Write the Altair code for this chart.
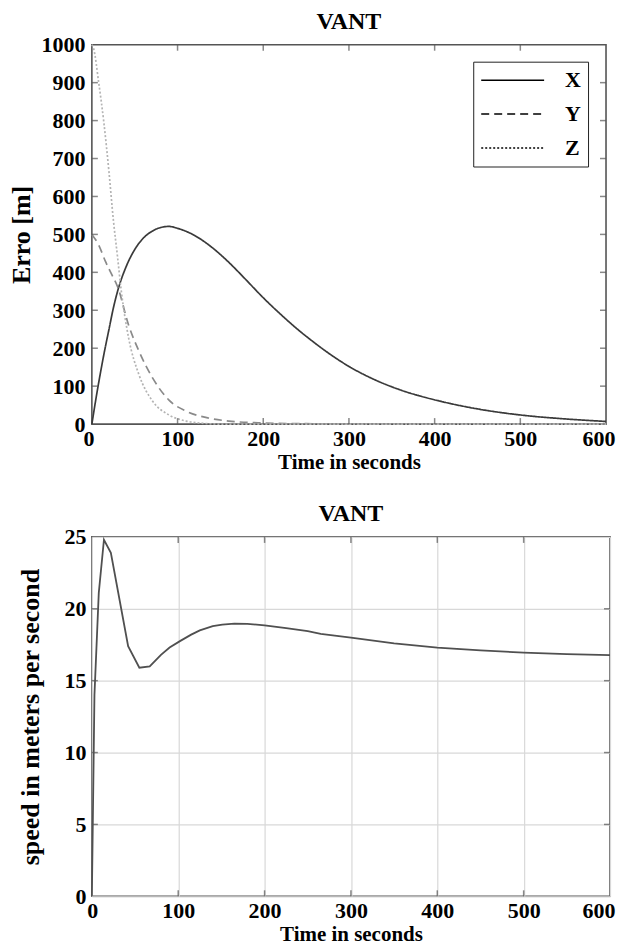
import altair as alt
import pandas as pd

FONT = "Liberation Serif"

# ---- Top chart data: position error (m) vs time (s)
X_T = [0, 5, 10, 15, 20, 25, 30, 40, 50, 60, 70, 80, 90, 100, 120, 140, 160, 180,
       200, 220, 240, 260, 280, 300, 330, 360, 400, 450, 500, 550, 600]
X_V = [0, 70, 135, 195, 250, 305, 350, 415, 460, 490, 508, 518, 521, 516, 497, 466,
       426, 380, 333, 290, 250, 214, 181, 152, 117, 90, 64, 40, 24, 14, 7]

Y_T = [0, 8, 16, 23, 30, 43, 55, 71, 90, 110, 136, 160, 200, 250, 300, 600]
Y_V = [500, 472, 428, 395, 362, 260, 192, 121, 63, 34, 16, 8, 3, 1, 0, 0]

Z_T = [0, 2, 8, 14, 20, 25, 30, 34, 43, 55, 71, 90, 110, 130, 150, 200, 600]
Z_V = [1000, 990, 900, 795, 664, 540, 440, 357, 226, 130, 60, 24, 8, 2, 0, 0, 0]

SERIES = ["X", "Y", "Z"]
SERIES_COLORS = ["#3a3a3a", "#8a8a8a", "#b4b4b4"]
SERIES_DASH = [[1, 0], [8, 5], [2, 2]]

# ---- Bottom chart data: speed (m/s) vs time (s)
S_T = [0, 3, 8, 14, 22, 42, 55, 67, 80, 90, 102, 115, 125, 140, 151, 165, 180, 200,
       225, 250, 265, 300, 350, 400, 450, 500, 550, 600]
S_V = [0, 14, 21.1, 24.8, 23.9, 17.4, 15.9, 16.0, 16.8, 17.3, 17.75, 18.2, 18.5, 18.8,
       18.9, 18.97, 18.95, 18.85, 18.65, 18.45, 18.25, 18.0, 17.6, 17.3, 17.1, 16.95,
       16.85, 16.78]

X_TICKS = [0, 100, 200, 300, 400, 500, 600]
X_INNER = [100, 200, 300, 400, 500]
ERR_TICKS = [0, 100, 200, 300, 400, 500, 600, 700, 800, 900, 1000]
ERR_INNER = [100, 200, 300, 400, 500, 600, 700, 800, 900]
SPD_TICKS = [0, 5, 10, 15, 20, 25]
SPD_INNER = [5, 10, 15, 20]

TOP_W, TOP_H = 515, 380
BOT_W, BOT_H = 519, 360
TICK_LEN = 6
TICK_COLOR = "#555555"

color_of = dict(zip(SERIES, SERIES_COLORS))
err_df = pd.concat([
    pd.DataFrame({"t": X_T, "v": X_V, "series": "X"}),
    pd.DataFrame({"t": Y_T, "v": Y_V, "series": "Y"}),
    pd.DataFrame({"t": Z_T, "v": Z_V, "series": "Z"}),
], ignore_index=True)
err_df["col"] = err_df["series"].map(color_of)
spd_df = pd.DataFrame({"t": S_T, "v": S_V})
xin_df = pd.DataFrame({"t": X_INNER})
errin_df = pd.DataFrame({"v": ERR_INNER})
spdin_df = pd.DataFrame({"v": SPD_INNER})

x_scale = alt.Scale(domain=[0, 600], nice=False)


def x_axis(label_pad, title_pad, grid, flush_off):
    return alt.Axis(values=X_TICKS, title="Time in seconds", grid=grid,
                    gridColor="#d8d8d8", gridWidth=1.2,
                    ticks=False, domain=False,
                    labelFlush=True, labelFlushOffset=flush_off,
                    labelOverlap=False, format="d",
                    labelPadding=label_pad, titlePadding=title_pad,
                    labelFontSize=22, titleFontSize=21)


def inner_ticks(y_scale, y_axis, x_ax, h, w, x_df, y_df):
    mk = dict(color=TICK_COLOR, thickness=1.5, size=TICK_LEN)
    bt = alt.Chart(x_df).mark_tick(**mk).encode(
        x=alt.X("t:Q", scale=x_scale, axis=x_ax), y=alt.value(h - TICK_LEN / 2))
    tt = alt.Chart(x_df).mark_tick(**mk).encode(
        x=alt.X("t:Q", scale=x_scale, axis=x_ax), y=alt.value(TICK_LEN / 2))
    lt = alt.Chart(y_df).mark_tick(**mk).encode(
        y=alt.Y("v:Q", scale=y_scale, axis=y_axis), x=alt.value(TICK_LEN / 2))
    rt = alt.Chart(y_df).mark_tick(**mk).encode(
        y=alt.Y("v:Q", scale=y_scale, axis=y_axis), x=alt.value(w - TICK_LEN / 2))
    return [bt, tt, lt, rt]


# ---- Top chart
err_scale = alt.Scale(domain=[0, 1000], nice=False)
top_x_axis = x_axis(4, 2, False, 9)
err_axis = alt.Axis(values=ERR_TICKS, title="Erro [m]", grid=False, ticks=False,
                    domain=False, labelPadding=7, titlePadding=6,
                    labelOverlap=False, format="d",
                    labelFontSize=22, titleFontSize=26)
err_lines = alt.Chart(err_df).mark_line(interpolate="monotone", strokeWidth=1.7).encode(
    x=alt.X("t:Q", scale=x_scale, axis=top_x_axis),
    y=alt.Y("v:Q", scale=err_scale, axis=err_axis),
    color=alt.Color("col:N", scale=None),
    strokeDash=alt.StrokeDash(
        "series:N", scale=alt.Scale(domain=SERIES, range=SERIES_DASH),
        legend=alt.Legend(title=None, orient="none", legendX=382, legendY=17,
                          symbolType="M-1,0L5,0", symbolSize=441,
                          symbolStrokeColor="black", symbolStrokeWidth=1.5,
                          symbolFillColor="transparent",
                          labelFont=FONT, labelFontWeight="bold", labelFontSize=22,
                          labelColor="black", labelOffset=62, rowPadding=11,
                          padding=7, strokeColor="#222222", fillColor="white")),
    order=alt.Order("t:Q"),
)
top = alt.layer(
    err_lines, *inner_ticks(err_scale, err_axis, top_x_axis, TOP_H, TOP_W, xin_df, errin_df)
).properties(
    width=TOP_W, height=TOP_H,
    title=alt.Title("VANT", fontSize=24, font=FONT, fontWeight="bold", offset=0),
)

# ---- Bottom chart
spd_scale = alt.Scale(domain=[0, 25], nice=False)
bot_x_axis = x_axis(4, 2, True, 5)
spd_axis = alt.Axis(values=SPD_TICKS, title="speed in meters per second", grid=True,
                    gridColor="#d8d8d8", gridWidth=1.2, ticks=False, domain=False,
                    labelPadding=6, titlePadding=20, labelOverlap=False,
                    labelFontSize=22, titleFontSize=26)
spd_line = alt.Chart(spd_df).mark_line(color="#505050", strokeWidth=1.8).encode(
    x=alt.X("t:Q", scale=x_scale, axis=bot_x_axis),
    y=alt.Y("v:Q", scale=spd_scale, axis=spd_axis),
    order=alt.Order("t:Q"),
)
bottom = alt.layer(
    spd_line, *inner_ticks(spd_scale, spd_axis, bot_x_axis, BOT_H, BOT_W, xin_df, spdin_df)
).properties(
    width=BOT_W, height=BOT_H,
    title=alt.Title("VANT", fontSize=24, font=FONT, fontWeight="bold", offset=0),
)

chart = alt.vconcat(top, bottom, spacing=28).resolve_legend(
    strokeDash="independent",
).properties(
    padding={"left": 0, "top": 0, "right": 0, "bottom": 0},
).configure_view(
    stroke="#555555", strokeWidth=1.6,
).configure_axis(
    labelFont=FONT, labelFontWeight="bold", labelColor="black",
    titleFont=FONT, titleFontWeight="bold", titleColor="black",
).configure_title(
    color="black", anchor="middle",
)

chart.save("out.html", embed_options={"renderer": "svg", "actions": False})
